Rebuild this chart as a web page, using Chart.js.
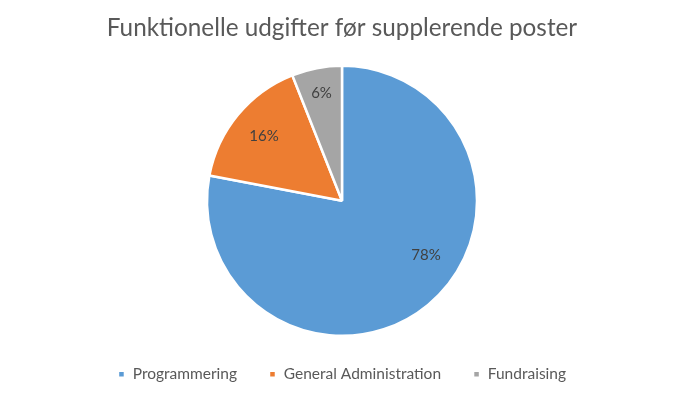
<!DOCTYPE html>
<html>
<head>
<meta charset="utf-8">
<script src="https://cdn.jsdelivr.net/npm/chart.js@4/dist/chart.umd.min.js"></script>
<style>
  html, body { margin: 0; padding: 0; background: #fff; }
  #wrap { width: 700px; height: 396px; }
</style>
</head>
<body>
<div id="wrap"><canvas id="pie"></canvas></div>
<script>
  var categories = ["Programmering", "General Administration", "Fundraising"];
  var shares = [78, 16, 6];
  var colors = ["#5b9bd5", "#ed7d31", "#a5a5a5"];

  // percentage text inside each slice (Excel "best fit" nudges the big one)
  var sliceLabels = {
    id: "sliceLabels",
    afterDatasetsDraw: function (chart) {
      var ctx = chart.ctx;
      var arcs = chart.getDatasetMeta(0).data;
      var depth = [0.74, 0.75, 0.81];
      var nudge = [-17.7, 0, 0];
      ctx.save();
      ctx.font = "15px Lato, 'Open Sans', sans-serif";
      ctx.fillStyle = "#404040";
      ctx.textAlign = "center";
      ctx.textBaseline = "middle";
      arcs.forEach(function (arc, i) {
        var mid = (arc.startAngle + arc.endAngle) / 2 + nudge[i] * Math.PI / 180;
        var r = arc.outerRadius * depth[i];
        ctx.fillText(shares[i] + "%", arc.x + Math.cos(mid) * r, arc.y + Math.sin(mid) * r);
      });
      ctx.restore();
    }
  };

  new Chart(document.getElementById("pie"), {
    type: "pie",
    data: {
      labels: categories,
      datasets: [{
        data: shares,
        backgroundColor: colors,
        borderColor: "#ffffff",
        borderWidth: 2.5,
        radius: 135
      }]
    },
    options: {
      responsive: true,
      maintainAspectRatio: false,
      animation: false,
      layout: { padding: { top: 0, bottom: 4, right: 16 } },
      plugins: {
        title: {
          display: true,
          text: "Funktionelle udgifter før supplerende poster",
          color: "#595959",
          font: { family: "Lato, 'Open Sans', sans-serif", size: 24.3, weight: "normal" },
          padding: { top: 14, bottom: 24 }
        },
        legend: {
          position: "bottom",
          labels: {
            color: "#595959",
            font: { family: "Lato, 'Open Sans', sans-serif", size: 15.5 },
            boxWidth: 7,
            boxHeight: 7,
            padding: 32
          }
        },
        tooltip: { enabled: false }
      }
    },
    plugins: [sliceLabels]
  });
</script>
</body>
</html>
